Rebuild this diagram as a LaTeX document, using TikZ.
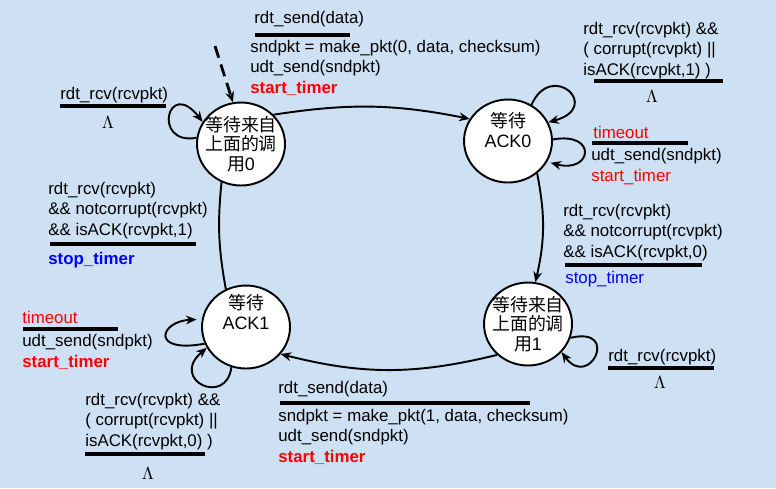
\documentclass[tikz,border=0pt]{standalone}
\usepackage{fontspec}
\setmainfont{Liberation Sans}
\newfontfamily\cjk{Noto Sans CJK SC}
\usetikzlibrary{arrows.meta,shapes.geometric}
\definecolor{bgblue}{RGB}{206,224,243}
\definecolor{txtred}{RGB}{255,0,0}
\definecolor{txtblue}{RGB}{0,0,255}
\begin{document}
\begin{tikzpicture}[x=0.02cm, y=-0.02cm,
  state/.style={ellipse, draw, line width=1.1pt, fill=white, minimum width=1.76cm, minimum height=1.66cm, inner sep=0pt},
  stxt/.style={align=center, inner sep=0pt, font=\cjk\fontsize{10.2}{11.2}\selectfont},
  lbl/.style={anchor=base west, inner sep=0pt, align=left, font=\fontsize{9.6}{11.6}\selectfont},
  bar/.style={line width=1.9pt},
  arr/.style={-{Stealth[length=6pt,width=5pt]}, line width=1.1pt}]
\fill[bgblue] (0,0) rectangle (776,488);
\useasboundingbox (0,0) rectangle (776,488);

% the four states
\node[state] (S0) at (241,144) {};
\node[state] (A0) at (508,141) {};
\node[state] (S1) at (528,324) {};
\node[state] (A1) at (246,327) {};
\node[stxt] (S0t) at (S0) {等待来自\\上面的调\\用{\rmfamily 0}};
\node[stxt] (A0t) at ([yshift=.22cm]A0) {等待\\{\rmfamily ACK0}};
\node[stxt] (S1t) at (S1) {等待来自\\上面的调\\用{\rmfamily 1}};
\node[stxt] (A1t) at ([yshift=.3cm]A1) {等待\\{\rmfamily ACK1}};

% transitions
\coordinate (init) at (215,46);
\draw[arr, dash pattern=on 7pt off 4pt, line width=1.6pt] (init) -- (S0.101);
\draw[arr] (S0.42) to[bend left=10] (A0.150);
\draw[arr] (A0.-48) to[bend left=12] (S1.80);
\draw[arr] (S1.225) to[bend left=14] (A1.-38);
\draw[line width=1.1pt] (A1.118) to[bend left=8] (S0.243);

% self loops
\draw[arr] (S0.172) .. controls +(-45,8) and +(-35,-45) .. (S0.150);
\draw[arr] (A0.57) .. controls +(20,-45) and +(55,-15) .. (A0.25);
\draw[arr, shorten >=2pt] (A0.2) .. controls +(45,-8) and +(45,12) .. (A0.-28);
\draw[arr] (S1.-18) .. controls +(50,-12) and +(28,38) .. (S1.-40);
\draw[arr, shorten >=3pt] (A1.202) .. controls +(-55,10) and +(-42,2) .. (A1.170);
\draw[arr] (A1.-110) .. controls +(-5,40) and +(-38,32) .. (A1.208);

% S0 -> A0
\node[lbl] (c1) at (254,23) {rdt\_send(data)};
\draw[bar] (255,35) -- (350,35);
\node[lbl] (e1) at (250,93) {sndpkt = make\_pkt(0, data, checksum)\\udt\_send(sndpkt)\\\textcolor{txtred}{\bfseries start\_timer}};

% S0 loop
\node[lbl] (c2) at (60,99) {rdt\_rcv(rcvpkt)};
\draw[bar] (60,106) -- (166,106);
\node (e2) at (108,122) {$\Lambda$};

% A0 top loop
\node[lbl] (c3) at (583,75) {rdt\_rcv(rcvpkt) \&\&\\( corrupt(rcvpkt) ||\\isACK(rcvpkt,1) )};
\draw[bar] (594,81) -- (723,81);
\node (e3) at (652,96) {$\Lambda$};

% A0 timeout
\node[lbl] (c4) at (593,138) {\textcolor{txtred}{timeout}};
\draw[bar] (592,143) -- (688,143);
\node[lbl] (e4) at (591,181) {udt\_send(sndpkt)\\\textcolor{txtred}{start\_timer}};

% A0 -> S1
\node[lbl] (c5) at (563,257) {rdt\_rcv(rcvpkt)\\\&\& notcorrupt(rcvpkt)\\\&\& isACK(rcvpkt,0)};
\draw[bar] (565,265) -- (702,265);
\node[lbl] (e5) at (565,283) {\textcolor{txtblue}{stop\_timer}};

% S1 loop
\node[lbl] (c6) at (608,361) {rdt\_rcv(rcvpkt)};
\draw[bar] (608,368) -- (714,368);
\node (e6) at (660,382) {$\Lambda$};

% S1 -> A1
\node[lbl] (c7) at (278,393) {rdt\_send(data)};
\draw[bar] (280,403) -- (530,403);
\node[lbl] (e7) at (278,462) {sndpkt = make\_pkt(1, data, checksum)\\udt\_send(sndpkt)\\\textcolor{txtred}{\bfseries start\_timer}};

% A1 timeout
\node[lbl] (c8) at (22,323) {\textcolor{txtred}{timeout}};
\draw[bar] (23,329) -- (118,329);
\node[lbl] (e8) at (22,367) {udt\_send(sndpkt)\\\textcolor{txtred}{\bfseries start\_timer}};

% A1 bottom loop
\node[lbl] (c9) at (85,446) {rdt\_rcv(rcvpkt) \&\&\\( corrupt(rcvpkt) ||\\isACK(rcvpkt,0) )};
\draw[bar] (85,454) -- (205,454);
\node (e9) at (148,473) {$\Lambda$};

% A1 -> S0
\node[lbl] (c10) at (48,235) {rdt\_rcv(rcvpkt)\\\&\& notcorrupt(rcvpkt)\\\&\& isACK(rcvpkt,1)};
\draw[bar] (50,244) -- (196,244);
\node[lbl] (e10) at (48,264) {\textcolor{txtblue}{\bfseries stop\_timer}};
\end{tikzpicture}
\end{document}
